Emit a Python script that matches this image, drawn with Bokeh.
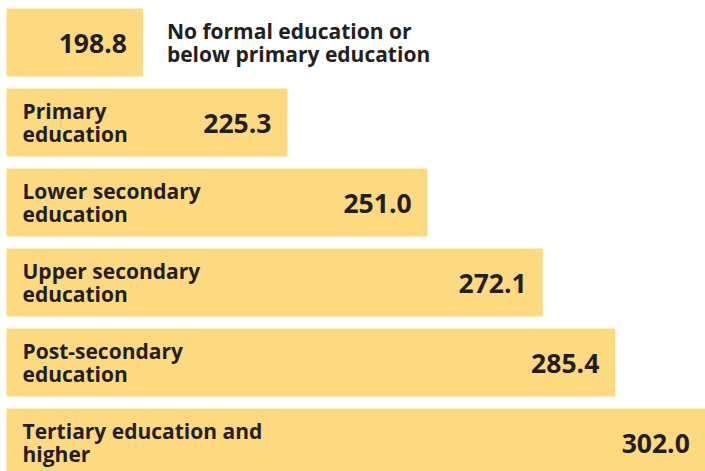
from bokeh.plotting import figure
from bokeh.models import ColumnDataSource, Range1d
from bokeh.core.properties import value
from bokeh.embed import file_html
from bokeh.resources import INLINE

categories = [
    "No formal education or\nbelow primary education",
    "Primary\neducation",
    "Lower secondary\neducation",
    "Upper secondary\neducation",
    "Post-secondary\neducation",
    "Tertiary education and\nhigher",
]
scores = [198.8, 225.3, 251.0, 272.1, 285.4, 302.0]
label_inside = [False, True, True, True, True, True]

BASE = 173.8
PX_PER_UNIT = 5.455
BAR_COLOR = "#FDDA80"
TEXT_COLOR = "#231F20"
FONT = "Open Sans"

W, H = 705, 471
n = len(scores)
ys = list(range(n))
src = ColumnDataSource(dict(
    y=ys,
    left=[BASE] * n,
    right=scores,
    val=[f"{v:.1f}" for v in scores],
))

p = figure(width=W, height=H, output_backend="svg", toolbar_location=None,
           x_range=Range1d(BASE - 6 / PX_PER_UNIT, BASE + (W - 6) / PX_PER_UNIT),
           y_range=Range1d((H - 42) / 80, -42 / 80),
           min_border=0, min_border_left=0, min_border_right=0,
           min_border_top=0, min_border_bottom=0)
p.axis.visible = False
p.grid.visible = False
p.outline_line_color = None
p.background_fill_color = "white"
p.border_fill_color = "white"

p.hbar(y="y", left="left", right="right", height=0.85, source=src,
       fill_color=BAR_COLOR, line_color=None)

p.text(x="right", y="y", text="val", source=src, x_offset=-16, y_offset=1,
       text_align="right", text_baseline="middle", text_font=value(FONT),
       text_font_style="bold", text_font_size="26.5px", text_color=TEXT_COLOR)

in_idx = [i for i in range(n) if label_inside[i]]
out_idx = [i for i in range(n) if not label_inside[i]]
src_in = ColumnDataSource(dict(x=[BASE] * len(in_idx), y=[ys[i] for i in in_idx],
                               t=[categories[i] for i in in_idx]))
src_out = ColumnDataSource(dict(x=[scores[i] for i in out_idx], y=[ys[i] for i in out_idx],
                                t=[categories[i] for i in out_idx]))
for s, off in ((src_in, 16), (src_out, 24)):
    p.text(x="x", y="y", text="t", source=s, x_offset=off,
           text_align="left", text_baseline="middle", text_font=value(FONT),
           text_font_style="bold", text_font_size="21px", text_color=TEXT_COLOR,
           text_line_height=0.84)

open("out.html", "w").write(file_html(p, INLINE))
